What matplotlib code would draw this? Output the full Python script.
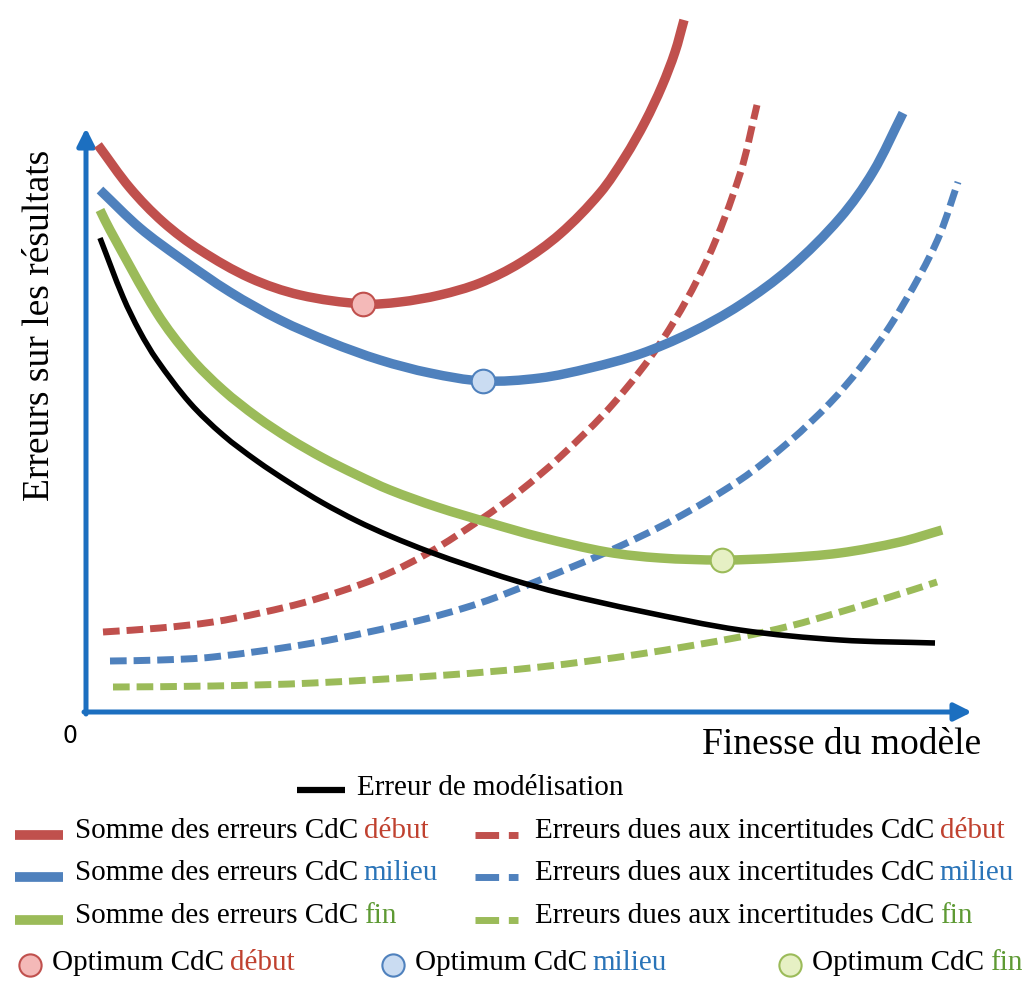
import numpy as np
import matplotlib
matplotlib.use("Agg")
import matplotlib.pyplot as plt
from matplotlib.path import Path
from matplotlib.patches import PathPatch

# ─── data (x = finesse du modèle, y = erreur, arbitrary units) ───────────────

debut_sum_x = [12, 44, 77, 114, 164, 214, 277, 314, 354, 394, 434, 474, 514, 539, 559, 576, 589, 598]
debut_sum_y = [567, 524, 490, 462, 434, 417, 408, 410, 417, 429, 449, 478, 519, 555, 590, 626, 660, 692]

milieu_sum_x = [14, 54, 94, 144, 194, 244, 294, 344, 397, 454, 504, 554, 604, 654, 704, 754, 787, 817]
milieu_sum_y = [522, 484, 454, 420, 392, 370, 352, 339, 331, 334, 344, 358, 379, 407, 444, 494, 540, 599]

fin_sum_x = [14, 24, 71, 104, 137, 171, 204, 237, 271, 304, 351, 404, 454, 521, 574,
             636, 694, 754, 814, 856]
fin_sum_y = [502, 482, 399, 355, 322, 295, 273, 254, 237, 222, 205, 189, 175, 160, 154,
             152, 154, 159, 170, 182]

model_x = [14, 37, 54, 71, 104, 137, 171, 204, 237, 271, 304, 344, 384, 427, 474, 554, 654, 754, 849]
model_y = [474, 415, 380, 352, 309, 277, 251, 229, 209, 191, 176, 160, 146, 132, 119, 101, 82, 72, 69]

debut_unc_x = [17, 74, 127, 174, 227, 294, 344, 394, 434, 474, 527, 577, 621, 654, 671]
debut_unc_y = [80, 84, 90, 99, 112, 135, 160, 192, 221, 255, 308, 373, 452, 538, 607]

milieu_unc_x = [24, 74, 127, 227, 327, 394, 454, 521, 587, 654, 704, 744, 774, 804, 834, 854, 872]
milieu_unc_y = [51, 52, 55, 69, 90, 109, 132, 160, 192, 232, 271, 309, 344, 386, 437, 478, 530]

fin_unc_x = [27, 127, 227, 361, 454, 554, 654, 704, 754, 804, 851]
fin_unc_y = [25, 26, 29, 37, 45, 58, 75, 86, 100, 115, 130]

phases = ["début", "milieu", "fin"]

RED, BLUE, GREEN = "#C0504D", "#4F81BD", "#9BBB59"
TXT = {"début": "#C0412F", "milieu": "#2A74B8", "fin": "#5E9A34"}
FILL = {"début": "#F4B9B8", "milieu": "#CADCF2", "fin": "#E6F0C4"}
LINE = {"début": RED, "milieu": BLUE, "fin": GREEN}
AXIS = "#1C6FC0"
SERIF = ["Liberation Serif", "DejaVu Serif"]

sums = {"début": (debut_sum_x, debut_sum_y),
        "milieu": (milieu_sum_x, milieu_sum_y),
        "fin": (fin_sum_x, fin_sum_y)}
uncs = {"début": (debut_unc_x, debut_unc_y),
        "milieu": (milieu_unc_x, milieu_unc_y),
        "fin": (fin_unc_x, fin_unc_y)}

DASH = (0, (2.4, 1.0))


def smooth_path(x, y):
    """Smooth curve through the points (chord-weighted cubic Bezier segments)."""
    p = np.column_stack([x, y]).astype(float)
    n = len(p)
    verts, codes = [p[0]], [Path.MOVETO]
    for i in range(n - 1):
        p0 = p[i - 1] if i > 0 else p[i]
        p1, p2 = p[i], p[i + 1]
        p3 = p[i + 2] if i + 2 < n else p[i + 1]
        d01 = np.hypot(*(p1 - p0))
        d12 = np.hypot(*(p2 - p1))
        d23 = np.hypot(*(p3 - p2))
        c1 = p1 + (p2 - p0) * d12 / (d01 + d12) / 3
        c2 = p2 - (p3 - p1) * d12 / (d12 + d23) / 3
        verts += [c1, c2, p2]
        codes += [Path.CURVE4] * 3
    return Path(verts, codes)


def curve(ax, x, y, **kw):
    patch = PathPatch(smooth_path(x, y), fill=False, capstyle="butt",
                      clip_on=False, **kw)
    ax.add_patch(patch)


fig = plt.figure(figsize=(10.29, 9.82), dpi=100)

# ─── main diagram ────────────────────────────────────────────────────────────
ax = fig.add_axes([86 / 1029, 270 / 982, 886 / 1029, 712 / 982])
ax.set_xlim(0, 886)
ax.set_ylim(0, 712)
ax.axis("off")

for p in phases:
    ux, uy = uncs[p]
    curve(ax, ux, uy, edgecolor=LINE[p], lw=5, linestyle=DASH, zorder=2)
curve(ax, model_x, model_y, edgecolor="black", lw=4, zorder=3)
for p in phases:
    sx, sy = sums[p]
    curve(ax, sx, sy, edgecolor=LINE[p], lw=6.8, zorder=4)
    i = int(np.argmin(sy))
    ax.plot(sx[i], sy[i], "o", ms=17, mfc=FILL[p], mec=LINE[p], mew=1.5,
            clip_on=False, zorder=5)

# axes arrows
arrow = dict(arrowstyle="-|>", color=AXIS, lw=3.6, mutation_scale=26,
             shrinkA=0, shrinkB=0)
ax.annotate("", xy=(886, 0), xytext=(-2, 0), arrowprops=arrow, annotation_clip=False)
ax.annotate("", xy=(0, 584), xytext=(0, -2), arrowprops=arrow, annotation_clip=False)

# ─── labels & legend (overlay in pixel layout) ───────────────────────────────
lay = fig.add_axes([0, 0, 1, 1])
lay.set_xlim(0, 1029)
lay.set_ylim(982, 0)
lay.axis("off")
lay.patch.set_alpha(0)

lay.text(40, 325, "Erreurs sur les résultats", rotation=90, fontsize=27,
         family=SERIF, ha="center", va="center")
lay.text(842, 745, "Finesse du modèle", fontsize=27, family=SERIF,
         ha="center", va="center")
lay.text(70, 736, "0", fontsize=17, ha="center", va="center")

FS = 21


def two_tone(x, y, head, tail, color):
    t = lay.text(x, y, head, fontsize=FS, family=SERIF, ha="left", va="center")
    lay.annotate(tail, xy=(1, 0), xycoords=t, xytext=(4, 0),
                 textcoords="offset points", ha="left", va="bottom",
                 fontsize=FS, family=SERIF, color=color)


# black model error
lay.plot([297, 345], [790, 790], color="black", lw=4.5, solid_capstyle="butt")
lay.text(357, 788, "Erreur de modélisation", fontsize=FS, family=SERIF,
         ha="left", va="center")

rows_y = [835, 877, 920]
for p, y in zip(phases, rows_y):
    lay.plot([15, 63], [y, y], color=LINE[p], lw=7, solid_capstyle="butt")
    two_tone(75, y - 4, "Somme des erreurs CdC", p, TXT[p])
    lay.plot([475, 518], [y, y], color=LINE[p], lw=5, linestyle=(0, (3.4, 1.4)),
             dash_capstyle="butt")
    two_tone(535, y - 4, "Erreurs dues aux incertitudes CdC", p, TXT[p])

for p, xm in zip(phases, [30, 393, 790]):
    lay.plot(xm, 965, "o", ms=16, mfc=FILL[p], mec=LINE[p], mew=1.5)
    two_tone(xm + 22, 963, "Optimum CdC", p, TXT[p])

fig.savefig("out.png", dpi=100)
